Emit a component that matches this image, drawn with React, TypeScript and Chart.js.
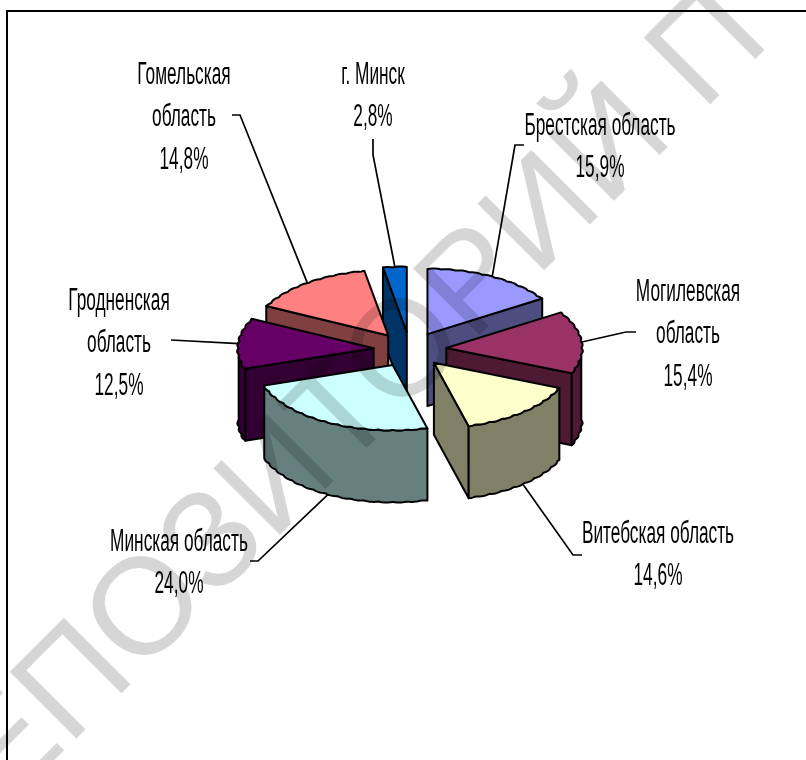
import React, { useEffect, useRef } from "react";
import { Chart, registerables } from "chart.js";

Chart.register(...registerables);

const regions = [
  "Брестская область",
  "Могилевская область",
  "Витебская область",
  "Минская область",
  "Гродненская область",
  "Гомельская область",
  "г. Минск",
];
const shares = [15.9, 15.4, 14.6, 24.0, 12.5, 14.8, 2.8];
const topColors = ["#9999FF", "#993366", "#FFFFCC", "#CCFFFF", "#660066", "#FF8080", "#0066CC"];
const sideColors = ["#4D4D80", "#4D1933", "#808066", "#668080", "#330033", "#804040", "#003366"];
const labelLines = [
  ["Брестская область"],
  ["Могилевская", "область"],
  ["Витебская область"],
  ["Минская область"],
  ["Гродненская", "область"],
  ["Гомельская", "область"],
  ["г. Минск"],
];
const labelCentres = [
  [600, 126],
  [688, 292],
  [658, 534],
  [179, 542],
  [119, 301],
  [184, 75],
  [373, 75],
];
const leaderElbows = [
  [[524, 145], [515, 145]],
  [[636, 332], [626, 332]],
  [[582, 555], [573, 555]],
  [[250, 561], [258, 561]],
  [[171, 340]],
  [[232, 115], [240, 115]],
  [[373, 139], [373, 155]],
];
const WATERMARK = "РЕПОЗИТОРИЙ П";

const CX = 410;
const CY = 349.5;
const RX = 135;
const RY = 65;
const DEPTH = 72;
const FONT = '31px "Liberation Sans"';
const TEXT_SQUEEZE = 0.557;
const LINE_GAP = 42.5;

const pie3d = {
  id: "pie3d",
  beforeDatasetsDraw(chart: any) {
    const ctx = chart.ctx as CanvasRenderingContext2D;
    const arcs = chart.getDatasetMeta(0).data as any[];
    const geom = arcs.map((el, i) => {
      const p = el.getProps(["x", "y", "startAngle", "endAngle", "outerRadius"], true);
      const mid = (p.startAngle + p.endAngle) / 2;
      const k = 1 / p.outerRadius;
      const e = (el.options.offset || 0) / 4;
      return {
        i,
        a: p.startAngle,
        b: p.endAngle,
        mid,
        ax: CX + Math.cos(mid) * e * k * RX,
        ay: CY + Math.sin(mid) * e * k * RY,
      };
    });
    const bump = (t: number) => 1 + 0.011 * Math.abs(Math.sin(t * 30));
    const rim = (g: any, t: number, dz = 0) => [
      g.ax + Math.cos(t) * RX * bump(t),
      g.ay + Math.sin(t) * RY * bump(t) + dz,
    ];
    const poly = (pts: number[][], fill: string) => {
      ctx.beginPath();
      pts.forEach(([x, y], n) => (n ? ctx.lineTo(x, y) : ctx.moveTo(x, y)));
      ctx.closePath();
      ctx.fillStyle = fill;
      ctx.fill();
      ctx.stroke();
    };
    const samples = (from: number, to: number) => {
      const out: number[] = [];
      const n = Math.max(2, Math.ceil((to - from) / (Math.PI / 360)));
      for (let s = 0; s <= n; s++) out.push(from + ((to - from) * s) / n);
      return out;
    };
    ctx.save();
    ctx.strokeStyle = "#000";
    ctx.lineWidth = 2;
    ctx.lineJoin = "round";
    [...geom]
      .sort((p, q) => Math.sin(p.mid) - Math.sin(q.mid))
      .forEach((g) => {
        const side = sideColors[g.i];
        const pa = rim(g, g.a);
        const pb = rim(g, g.b);
        if (-Math.cos(g.a) > 0) {
          poly([[g.ax, g.ay], pa, [pa[0], pa[1] + DEPTH], [g.ax, g.ay + DEPTH]], side);
        }
        if (Math.cos(g.b) > 0) {
          poly([[g.ax, g.ay], pb, [pb[0], pb[1] + DEPTH], [g.ax, g.ay + DEPTH]], side);
        }
        const from = Math.max(g.a, 0);
        const to = Math.min(g.b, Math.PI);
        if (to > from) {
          const ts = samples(from, to);
          poly(
            [...ts.map((t) => rim(g, t)), ...[...ts].reverse().map((t) => rim(g, t, DEPTH))],
            side
          );
        }
        poly([[g.ax, g.ay], ...samples(g.a, g.b).map((t) => rim(g, t))], topColors[g.i]);
      });
    ctx.restore();
    return false;
  },
  afterDraw(chart: any) {
    const ctx = chart.ctx as CanvasRenderingContext2D;
    const arcs = chart.getDatasetMeta(0).data as any[];
    ctx.save();
    ctx.strokeStyle = "#000";
    ctx.lineWidth = 2;
    ctx.beginPath();
    ctx.moveTo(7, 760);
    ctx.lineTo(7, 11);
    ctx.lineTo(806, 11);
    ctx.stroke();
    ctx.lineWidth = 1.7;
    arcs.forEach((el, i) => {
      const p = el.getProps(["startAngle", "endAngle", "outerRadius"], true);
      const mid = (p.startAngle + p.endAngle) / 2;
      const e = (el.options.offset || 0) / 4 / p.outerRadius;
      const c = Math.cos(mid);
      const s = Math.sin(mid);
      const wallDrop = s > 0.05 ? DEPTH : 0;
      const tipX = CX + c * (1 + e) * RX;
      const tipY = CY + s * (1 + e) * RY + wallDrop;
      ctx.beginPath();
      leaderElbows[i].forEach(([x, y], n) => (n ? ctx.lineTo(x, y) : ctx.moveTo(x, y)));
      ctx.lineTo(tipX, tipY);
      ctx.stroke();
    });
    ctx.fillStyle = "#000";
    ctx.font = FONT;
    ctx.textAlign = "center";
    ctx.textBaseline = "middle";
    labelLines.forEach((lines, i) => {
      const all = [...lines, shares[i].toFixed(1).replace(".", ",") + "%"];
      all.forEach((text, n) => {
        ctx.save();
        ctx.translate(labelCentres[i][0], labelCentres[i][1] + n * LINE_GAP);
        ctx.scale(TEXT_SQUEEZE, 1);
        ctx.fillText(text, 0, 0);
        ctx.restore();
      });
    });
    ctx.globalCompositeOperation = "multiply";
    ctx.fillStyle = "#D6D6D6";
    ctx.font = '137px "Liberation Sans"';
    ctx.textAlign = "left";
    ctx.textBaseline = "alphabetic";
    ctx.rotate(-Math.PI / 4);
    ctx.fillText(WATERMARK, -662, 576);
    ctx.restore();
  },
};

export default function App() {
  const ref = useRef<HTMLCanvasElement>(null);
  useEffect(() => {
    const chart = new Chart(ref.current!, {
      type: "pie",
      data: {
        labels: regions,
        datasets: [
          {
            data: shares,
            backgroundColor: topColors,
            borderColor: "#000",
            borderWidth: 1,
            offset: 266,
          },
        ],
      },
      options: {
        responsive: false,
        animation: false,
        plugins: { legend: { display: false }, tooltip: { enabled: false } },
      },
      plugins: [pie3d],
    } as any);
    return () => chart.destroy();
  }, []);
  return (
    <canvas
      ref={ref}
      width={806}
      height={760}
      style={{ position: "absolute", left: 0, top: 0, display: "block", background: "#fff" }}
    />
  );
}
